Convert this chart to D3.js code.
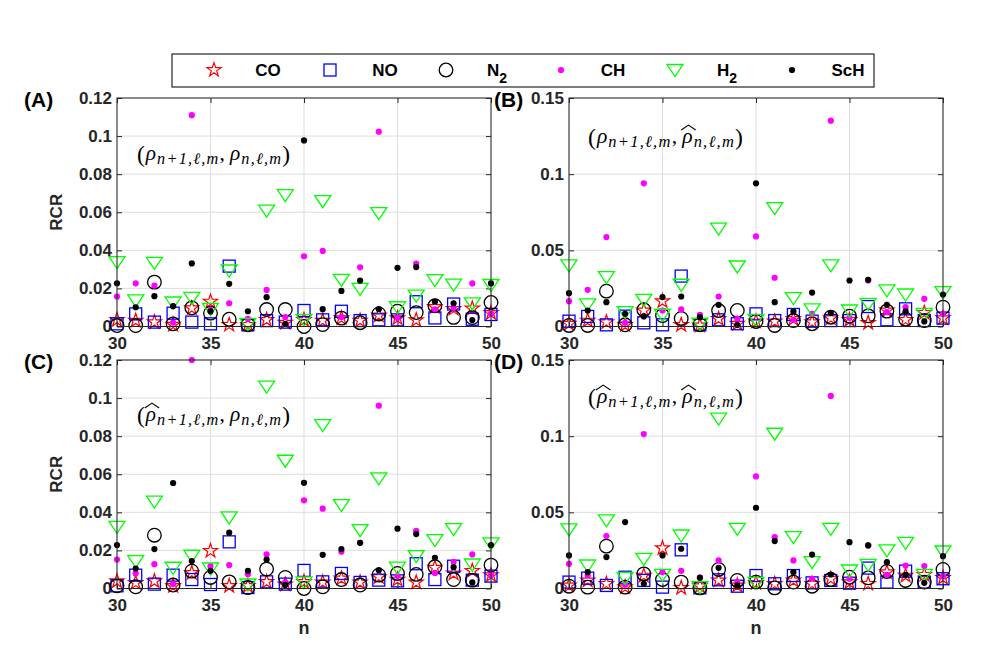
<!DOCTYPE html>
<html>
<head>
<meta charset="utf-8">
<script src="https://cdn.jsdelivr.net/npm/d3@7"></script>
<style>
  body { margin: 0; background: #fff; }
  svg { display: block; }
</style>
</head>
<body>
<div id="chart"></div>
<script>
// n values on the x axis
const nValues = [30, 31, 32, 33, 34, 35, 36, 37, 38, 39, 40, 41, 42, 43, 44, 45, 46, 47, 48, 49, 50];
const xTicks = [30, 35, 40, 45, 50];
const yTicks12 = [0, 0.02, 0.04, 0.06, 0.08, 0.1, 0.12];
const yTickLabels12 = ["0", "0.02", "0.04", "0.06", "0.08", "0.1", "0.12"];
const yTicks15 = [0, 0.05, 0.1, 0.15];
const yTickLabels15 = ["0", "0.05", "0.1", "0.15"];
const seriesNames = ["CO", "NO", "N2", "CH", "H2", "ScH"];

// panel (A)
const A_CO  = [0.0035,0.0031,0.0023,0.0010,0.0096,0.0131,0.0009,0.0009,0.0035,0.0020,0.0035,0.0031,0.0044,0.0031,0.0058,0.0044,0.0033,0.0103,0.0093,0.0095,0.0071];
const A_NO  = [0.0014,0.0066,0.0023,0.0070,0.0023,0.0014,0.0317,0.0009,0.0031,0.0023,0.0084,0.0035,0.0080,0.0031,0.0035,0.0035,0.0130,0.0045,0.0118,0.0038,0.0063];
const A_N2  = [0.0005,0.0005,0.0233,0.0014,0.0098,0.0070,0.0038,0.0009,0.0089,0.0089,0.0000,0.0010,0.0044,0.0020,0.0066,0.0080,0.0073,0.0109,0.0048,0.0047,0.0126];
const A_CH  = [0.0157,0.0227,0.0215,0.0020,0.1110,0.0087,0.0122,0.0040,0.0192,0.0050,0.0369,0.0397,0.0050,0.0311,0.1023,0.0045,0.0330,0.0090,0.0098,0.0226,0.0066];
const A_H2  = [0.0338,0.0137,0.0334,0.0126,0.0150,0.0093,0.0294,0.0014,0.0609,0.0690,0.0035,0.0658,0.0245,0.0198,0.0595,0.0101,0.0162,0.0244,0.0220,0.0121,0.0218];
const A_ScH = [0.0227,0.0101,0.0159,0.0107,0.0331,0.0079,0.0224,0.0080,0.0154,0.0014,0.0977,0.0091,0.0187,0.0241,0.0091,0.0308,0.0312,0.0130,0.0122,0.0034,0.0226];

// panel (B)
const B_CO  = [0.0018,0.0039,0.0028,0.0011,0.0105,0.0166,0.0011,0.0007,0.0050,0.0018,0.0033,0.0033,0.0050,0.0028,0.0055,0.0044,0.0024,0.0105,0.0044,0.0090,0.0055];
const B_NO  = [0.0035,0.0066,0.0011,0.0068,0.0024,0.0011,0.0331,0.0011,0.0044,0.0018,0.0083,0.0039,0.0079,0.0035,0.0039,0.0039,0.0131,0.0044,0.0116,0.0039,0.0055];
const B_N2  = [0.0007,0.0007,0.0232,0.0011,0.0110,0.0072,0.0053,0.0011,0.0105,0.0105,0.0033,0.0007,0.0039,0.0018,0.0061,0.0068,0.0070,0.0101,0.0048,0.0039,0.0127];
const B_CH  = [0.0166,0.0241,0.0587,0.0024,0.0940,0.0105,0.0112,0.0077,0.0197,0.0050,0.0591,0.0320,0.0044,0.0083,0.1351,0.0057,0.0302,0.0094,0.0127,0.0182,0.0083];
const B_H2  = [0.0401,0.0145,0.0324,0.0094,0.0175,0.0077,0.0274,0.0018,0.0642,0.0394,0.0044,0.0777,0.0186,0.0112,0.0401,0.0105,0.0149,0.0237,0.0210,0.0083,0.0226];
const B_ScH = [0.0219,0.0105,0.0160,0.0083,0.0066,0.0193,0.0197,0.0061,0.0142,0.0011,0.0940,0.0160,0.0099,0.0223,0.0088,0.0302,0.0307,0.0142,0.0099,0.0033,0.0210];

// panel (C)
const C_CO  = [0.0039,0.0030,0.0039,0.0014,0.0082,0.0198,0.0014,0.0014,0.0035,0.0021,0.0035,0.0032,0.0053,0.0032,0.0061,0.0047,0.0032,0.0109,0.0079,0.0093,0.0070];
const C_NO  = [0.0014,0.0070,0.0023,0.0070,0.0047,0.0021,0.0245,0.0005,0.0035,0.0023,0.0095,0.0035,0.0079,0.0032,0.0044,0.0040,0.0130,0.0047,0.0117,0.0044,0.0065];
const C_N2  = [0.0014,0.0009,0.0280,0.0018,0.0091,0.0058,0.0035,0.0005,0.0102,0.0058,0.0000,0.0009,0.0047,0.0018,0.0070,0.0079,0.0074,0.0114,0.0047,0.0044,0.0123];
const C_CH  = [0.0152,0.0079,0.0128,0.0023,0.1200,0.0117,0.0123,0.0075,0.0180,0.0032,0.0463,0.0419,0.0193,0.0240,0.0960,0.0065,0.0303,0.0082,0.0140,0.0179,0.0070];
const C_H2  = [0.0324,0.0144,0.0456,0.0109,0.0172,0.0105,0.0373,0.0021,0.1060,0.0671,0.0032,0.0858,0.0438,0.0307,0.0578,0.0110,0.0170,0.0254,0.0312,0.0126,0.0237];
const C_ScH = [0.0228,0.0105,0.0207,0.0554,0.0144,0.0093,0.0293,0.0093,0.0152,0.0019,0.0555,0.0177,0.0207,0.0240,0.0096,0.0314,0.0286,0.0161,0.0112,0.0032,0.0228];

// panel (D)
const D_CO  = [0.0020,0.0053,0.0031,0.0009,0.0085,0.0265,0.0004,0.0015,0.0053,0.0020,0.0037,0.0031,0.0053,0.0031,0.0064,0.0042,0.0031,0.0107,0.0085,0.0090,0.0070];
const D_NO  = [0.0042,0.0068,0.0020,0.0074,0.0053,0.0009,0.0254,0.0004,0.0057,0.0015,0.0085,0.0031,0.0085,0.0037,0.0053,0.0035,0.0134,0.0042,0.0114,0.0042,0.0064];
const D_N2  = [0.0015,0.0009,0.0278,0.0009,0.0096,0.0059,0.0042,0.0004,0.0125,0.0053,0.0042,0.0004,0.0042,0.0015,0.0059,0.0074,0.0070,0.0112,0.0053,0.0042,0.0125];
const D_CH  = [0.0162,0.0085,0.0344,0.0024,0.1014,0.0107,0.0116,0.0074,0.0184,0.0042,0.0736,0.0337,0.0184,0.0064,0.1264,0.0064,0.0283,0.0090,0.0151,0.0147,0.0079];
const D_H2  = [0.0388,0.0151,0.0447,0.0070,0.0195,0.0090,0.0348,0.0009,0.1115,0.0392,0.0037,0.1016,0.0337,0.0173,0.0392,0.0118,0.0155,0.0250,0.0300,0.0090,0.0243];
const D_ScH = [0.0217,0.0107,0.0206,0.0436,0.0031,0.0217,0.0261,0.0070,0.0136,0.0020,0.0530,0.0311,0.0107,0.0223,0.0092,0.0304,0.0283,0.0173,0.0090,0.0037,0.0212];

const W = 981, H = 654;
const svg = d3.select("#chart").append("svg")
  .attr("width", W).attr("height", H)
  .style("font-family", "'Liberation Sans', Arial, sans-serif");

const axisColor = "#262626";
const gridColor = "#dedede";

// marker styles for each molecule
const styles = {
  CO:  { kind: "star",     color: "#ff0000" },
  NO:  { kind: "square",   color: "#0000ff" },
  N2:  { kind: "circle",   color: "#000000" },
  CH:  { kind: "dot",      color: "#ff00ff" },
  H2:  { kind: "triangle", color: "#00ff00" },
  ScH: { kind: "dot",      color: "#000000" }
};

const starPath = d3.symbol().type(d3.symbolStar).size(62)();

function drawMarker(g, kind, color, cx, cy) {
  if (kind === "circle") {
    g.append("circle").attr("cx", cx).attr("cy", cy).attr("r", 6.8)
      .attr("fill", "none").attr("stroke", color).attr("stroke-width", 1.3);
  } else if (kind === "square") {
    g.append("rect").attr("x", cx - 6).attr("y", cy - 6).attr("width", 12).attr("height", 12)
      .attr("fill", "none").attr("stroke", color).attr("stroke-width", 1.3);
  } else if (kind === "triangle") {
    // downward triangle, centred on its bounding box
    g.append("path").attr("d", `M${cx - 8},${cy - 5.5}L${cx + 8},${cy - 5.5}L${cx},${cy + 6.5}Z`)
      .attr("fill", "none").attr("stroke", color).attr("stroke-width", 1.3);
  } else if (kind === "star") {
    g.append("path").attr("d", starPath).attr("transform", `translate(${cx},${cy})`)
      .attr("fill", "none").attr("stroke", color).attr("stroke-width", 1.2);
  } else {
    g.append("circle").attr("cx", cx).attr("cy", cy).attr("r", 3.1).attr("fill", color);
  }
}

// math annotation, drawn piece by piece then stretched to the width seen in the figure
function drawNote(x0, yb, targetW, hatFirst, hatSecond) {
  const g = svg.append("g");
  const pieces = [
    { t: "(", size: 23, italic: false, dy: 1.5, gap: 1 },
    { t: "ρ", size: 21, italic: true, hat: hatFirst, gap: 1 },
    { t: "n+1,ℓ,m", size: 16, italic: true, dy: 3.5, ls: 1.2 },
    { t: ",", size: 21, italic: false, gap: 5 },
    { t: "ρ", size: 21, italic: true, hat: hatSecond, gap: 1 },
    { t: "n,ℓ,m", size: 16, italic: true, dy: 3.5, ls: 1.2 },
    { t: ")", size: 23, italic: false, dy: 1.5 }
  ];
  let x = 0;
  pieces.forEach(p => {
    const t = g.append("text")
      .attr("x", x)
      .attr("y", p.dy || 0)
      .attr("font-family", "'Liberation Serif', 'DejaVu Serif', serif")
      .attr("font-style", p.italic ? "italic" : "normal")
      .attr("font-size", p.size)
      .attr("letter-spacing", p.ls || 0)
      .attr("fill", "#000")
      .text(p.t);
    const w = t.node().getComputedTextLength();
    if (p.hat) {
      g.append("path")
        .attr("d", `M${x - 1},${-13}L${x + w / 2 + 1},${-18}L${x + w + 3},${-13}`)
        .attr("fill", "none").attr("stroke", "#000").attr("stroke-width", 1);
    }
    x += w + (p.gap || 0);
  });
  g.attr("transform", `translate(${x0},${yb}) scale(${targetW / x},1)`);
}

const panels = [
  { label: "(A)", left: 117, top: 98, yTicks: yTicks12, yLabels: yTickLabels12,
    data: [A_CO, A_NO, A_N2, A_CH, A_H2, A_ScH], hats: [false, false], yName: true, xName: false,
    note: [137, 160, 153] },
  { label: "(B)", left: 569, top: 98, yTicks: yTicks15, yLabels: yTickLabels15,
    data: [B_CO, B_NO, B_N2, B_CH, B_H2, B_ScH], hats: [false, true], yName: false, xName: false,
    note: [588, 143, 155] },
  { label: "(C)", left: 117, top: 360, yTicks: yTicks12, yLabels: yTickLabels12,
    data: [C_CO, C_NO, C_N2, C_CH, C_H2, C_ScH], hats: [true, false], yName: true, xName: true,
    note: [137, 421, 153] },
  { label: "(D)", left: 569, top: 360, yTicks: yTicks15, yLabels: yTickLabels15,
    data: [D_CO, D_NO, D_N2, D_CH, D_H2, D_ScH], hats: [true, true], yName: false, xName: true,
    note: [588, 403, 155] }
];

const pw = 374, ph = 228.5;

panels.forEach(p => {
  const g = svg.append("g").attr("transform", `translate(${p.left},${p.top})`);
  const yMax = p.yTicks[p.yTicks.length - 1];
  const x = d3.scaleLinear().domain([30, 50]).range([0, pw]);
  const y = d3.scaleLinear().domain([0, yMax]).range([ph, 0]);

  g.append("rect").attr("width", pw).attr("height", ph).attr("fill", "#fff");

  // grid
  g.selectAll(".gx").data(xTicks).join("line")
    .attr("x1", d => x(d)).attr("x2", d => x(d)).attr("y1", 0).attr("y2", ph)
    .attr("stroke", gridColor).attr("stroke-width", 1);
  g.selectAll(".gy").data(p.yTicks).join("line")
    .attr("x1", 0).attr("x2", pw).attr("y1", d => y(d)).attr("y2", d => y(d))
    .attr("stroke", gridColor).attr("stroke-width", 1);

  // axes with ticks pointing inwards
  const labelMap = new Map(p.yTicks.map((v, i) => [v, p.yLabels[i]]));
  const ax = [
    g.append("g").attr("transform", `translate(0,${ph})`)
      .call(d3.axisBottom(x).tickValues(xTicks).tickSizeInner(-5).tickSizeOuter(0).tickPadding(10)),
    g.append("g")
      .call(d3.axisTop(x).tickValues(xTicks).tickSizeInner(-5).tickSizeOuter(0).tickFormat("")),
    g.append("g")
      .call(d3.axisLeft(y).tickValues(p.yTicks).tickSizeInner(-5).tickSizeOuter(0).tickPadding(5)
        .tickFormat(d => labelMap.get(d))),
    g.append("g").attr("transform", `translate(${pw},0)`)
      .call(d3.axisRight(y).tickValues(p.yTicks).tickSizeInner(-5).tickSizeOuter(0).tickFormat(""))
  ];
  ax.forEach(a => {
    a.select(".domain").remove();
    a.selectAll("line").attr("stroke", axisColor);
    a.selectAll("text").attr("fill", axisColor).attr("font-size", 17).attr("font-weight", "bold")
      .attr("font-family", "'Liberation Sans', Arial, sans-serif");
  });

  // markers, in legend order
  p.data.forEach((vals, si) => {
    const st = styles[seriesNames[si]];
    const mg = g.append("g");
    vals.forEach((v, i) => drawMarker(mg, st.kind, st.color, x(nValues[i]), y(v)));
  });

  // frame
  g.append("rect").attr("width", pw).attr("height", ph)
    .attr("fill", "none").attr("stroke", axisColor).attr("stroke-width", 1);

  drawNote(p.note[0], p.note[1], p.note[2], p.hats[0], p.hats[1]);

  // panel letter
  svg.append("text")
    .attr("x", p.left < 300 ? 24 : 494).attr("y", p.top + 9)
    .attr("font-size", 21).attr("font-weight", "bold").attr("fill", "#000")
    .text(p.label);

  if (p.yName) {
    svg.append("text")
      .attr("transform", `translate(${p.left - 55},${p.top + ph / 2}) rotate(-90)`)
      .attr("text-anchor", "middle")
      .attr("font-size", 17).attr("font-weight", "bold").attr("fill", axisColor)
      .text("RCR");
  }
  if (p.xName) {
    svg.append("text")
      .attr("x", p.left + pw / 2).attr("y", p.top + ph + 45)
      .attr("text-anchor", "middle")
      .attr("font-size", 18).attr("font-weight", "bold").attr("fill", axisColor)
      .text("n");
  }
});

// legend
const legendLabels = [["CO"], ["NO"], ["N", "2"], ["CH"], ["H", "2"], ["ScH"]];
const legendMarkerX = [214, 330, 446, 561, 675, 792];
const legendTextX = [268, 385, 497, 613, 727, 848];
const lg = svg.append("g");
lg.append("rect").attr("x", 172).attr("y", 54).attr("width", 702).attr("height", 33)
  .attr("fill", "#fff").attr("stroke", axisColor).attr("stroke-width", 1.2);
seriesNames.forEach((name, i) => {
  const st = styles[name];
  drawMarker(lg, st.kind, st.color, legendMarkerX[i], 70);
  const t = lg.append("text")
    .attr("x", legendTextX[i]).attr("y", 76)
    .attr("text-anchor", "middle")
    .attr("font-size", 17).attr("font-weight", "bold").attr("fill", "#000");
  t.append("tspan").text(legendLabels[i][0]);
  if (legendLabels[i][1]) {
    t.append("tspan").attr("dy", 7).attr("font-size", 14).text(legendLabels[i][1]);
  }
});
</script>
</body>
</html>
